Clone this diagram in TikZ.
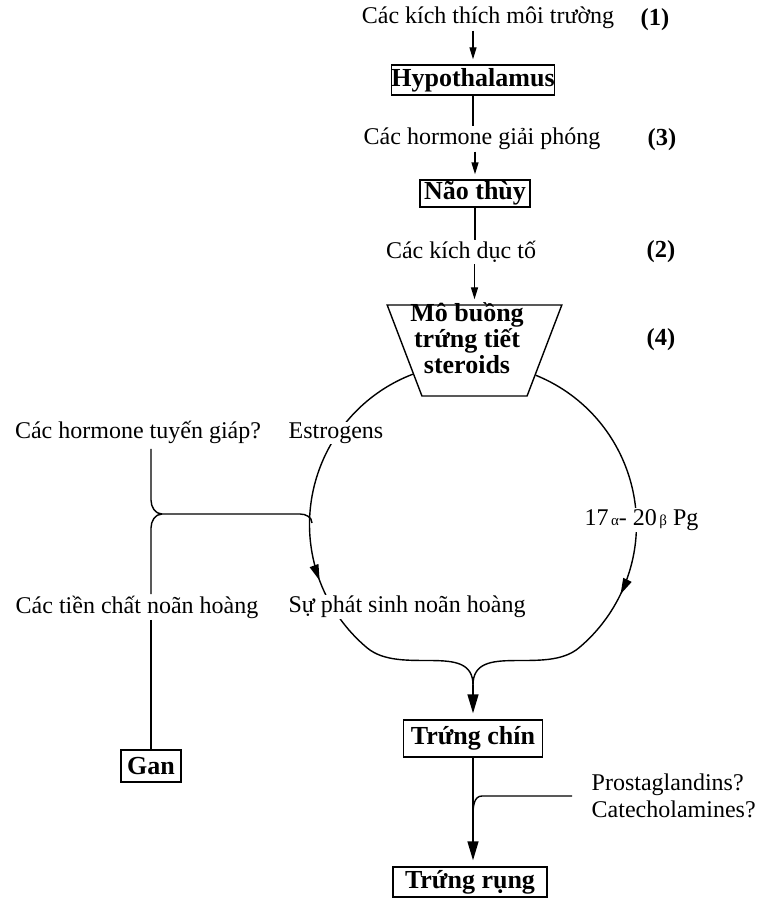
\documentclass[tikz,border=0pt]{standalone}
\usepackage{fontspec}
\setmainfont{Liberation Serif}
\usetikzlibrary{arrows.meta,shapes.geometric,decorations.markings,calc}

\tikzset{
  txt/.style={font=\fontsize{24}{27}\selectfont, inner sep=1pt},
  num/.style={font=\fontsize{24.5}{27}\selectfont\bfseries, inner sep=1pt},
  organ/.style={draw, line width=1.4pt, font=\fontsize{26}{26}\selectfont\bfseries, inner sep=0pt},
  gap/.style={txt, fill=white},
  arr/.style={-{Triangle[length=12pt,width=7pt]}, shorten >=5pt},
  bigarr/.style={-{Triangle[length=19pt,width=11pt]}, shorten >=6pt},
  midarr/.style={postaction={decorate}, decoration={markings, mark=at position #1 with {\arrow{Triangle[length=16pt,width=9pt]}}}}
}

\begin{document}
\begin{tikzpicture}[x=1pt,y=1pt,line width=1.4pt]
\useasboundingbox (0,0) rectangle (759,-899);

% axis of the cascade
\node[txt] (env) at (488,-18) {Các kích thích môi trường};
\node[num] (n1) at (655,-20) {(1)};
\node[organ, minimum width=162pt, minimum height=30pt] (hypo) at (473,-80) {Hypothalamus};
\node[txt] (rel) at (482,-139) {Các hormone giải phóng};
\node[num] (n3) at (662,-140) {(3)};
\node[organ, minimum width=110pt, minimum height=27pt] (nao) at (475,-193.5) {Não thùy};
\node[txt] (gon) at (461,-252) {Các kích dục tố};
\node[num] (n2) at (661,-252) {(2)};
\node[draw, line width=1.4pt, trapezium, trapezium left angle=68, trapezium right angle=68,
  shape border rotate=180, trapezium stretches=true, minimum width=175pt, minimum height=91pt,
  inner sep=2pt] (trap) at (474.5,-350.5) {\phantom{M}};
\node[font=\fontsize{26}{26}\selectfont\bfseries, align=center, inner sep=0pt] (ster) at (467,-338) {Mô buồng\\trứng tiết\\steroids};
\node[num] (n4) at (661,-340) {(4)};

% side inputs
\node[txt] (thyro) at (138,-432) {Các hormone tuyến giáp?};
\node[txt] (precur) at (137,-607) {Các tiền chất noãn hoàng};
\node[organ, minimum width=60pt, minimum height=32pt] (gan) at (151,-766) {Gan};
\node[organ, minimum width=139pt, minimum height=37pt] (chin) at (473,-738.5) {Trứng chín};
\node[organ, minimum width=154pt, minimum height=30pt] (rung) at (470,-882) {Trứng rụng};
\node[txt, anchor=west, align=left] (pc) at (590,-796) {Prostaglandins?\\Catecholamines?};

\coordinate (cusp) at (473,-685);
\coordinate (estIn) at (312,-523);
\coordinate (jn) at (162,-514);
\coordinate (ovjn) at (473,-815);

\draw[arr] (env.south -| hypo.north) -- (hypo.north);
\draw (hypo.south) -- (hypo.south |- rel.north);
\draw[arr] (rel.south -| nao.north) -- (nao.north);
\draw (nao.south) -- (nao.south |- gon.north);
\draw[arr] (gon.south -| trap.90) -- (trap.90);

% the ring of steroids
\draw[midarr=0.55] (trap.201) arc[start angle=111, end angle=230, radius=161] to[out=320,in=90] (cusp);
\draw[midarr=0.58] (trap.338) arc[start angle=68, end angle=-50, radius=161] to[out=220,in=90] (cusp);
\draw[bigarr] (cusp) -- (chin.north);

% liver branch
\draw ([yshift=-4pt]thyro.south -| gan.north) -- ($(jn -| gan.north)+(0,14)$) to[out=-90,in=180] (jn);
\draw (precur.north -| gan.north) -- ($(jn -| gan.north)+(0,-14)$) to[out=90,in=180] (jn);
\draw (jn) -- ($(estIn)+(-12,9)$) to[out=0,in=90] (estIn);
\draw (precur.south -| gan.north) -- (gan.north);

% ovulation
\draw[bigarr] (chin.south) -- (chin.south |- rung.north);
\draw ([xshift=-18pt]pc.west) -- ++(-90,0) to[out=180,in=90] (ovjn);

% labels over the ring
\node[gap] (est) at (336,-433) {Estrogens};
\node[gap] (vit) at (407,-607) {Sự phát sinh noãn hoàng};
\node[gap] (pg) at (641.5,-520) {17{\fontsize{15}{15}\selectfont\,α}- 20{\fontsize{15}{15}\selectfont\,β} Pg};
\end{tikzpicture}
\end{document}
